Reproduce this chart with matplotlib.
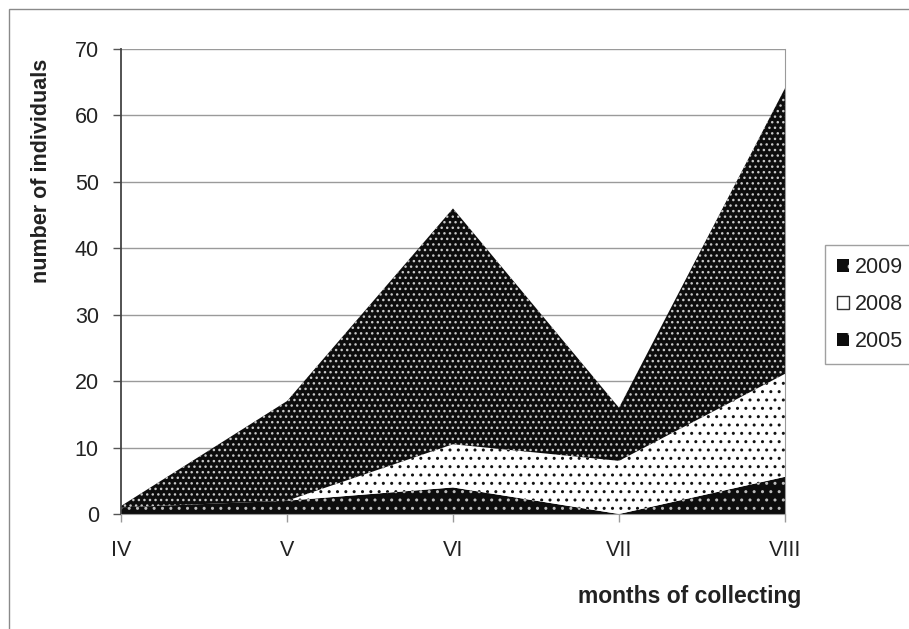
import matplotlib.pyplot as plt
from matplotlib.patches import Patch, Rectangle

plt.rcParams['font.family'] = ['Liberation Sans', 'DejaVu Sans']
plt.rcParams['hatch.linewidth'] = 1.0

# data (stacked: 2005 bottom, 2008 middle, 2009 top)
months = ['IV', 'V', 'VI', 'VII', 'VIII']
y2005 = [1, 2, 4, 0, 5.6]
y2008 = [0, 0, 6.5, 8, 15.5]
y2009 = [0.2, 15, 35.5, 8, 43]

yticks = [0, 10, 20, 30, 40, 50, 60, 70]

fig = plt.figure(figsize=(9.09, 6.29), dpi=100)
ax = fig.add_axes([121 / 909, 1 - 514 / 629, 664 / 909, 465 / 629])

x = range(len(months))
polys = ax.stackplot(x, y2005, y2008, y2009, labels=['2005', '2008', '2009'])

# fill + dot pattern for each layer
styles = [
    ('#0d0d0d', '#bdbdbd', '..'),   # 2005
    ('white', '#111111', '..'),     # 2008
    ('#0d0d0d', '#c8c8c8', '...'),  # 2009
]
for p, (fc, hc, h) in zip(polys, styles):
    p.set_facecolor(fc)
    p.set_edgecolor(hc)
    p.set_linewidth(0)
    p.set_hatch(h)

ax.set_xlim(0, len(months) - 1)
ax.set_ylim(0, 70)
ax.set_xticks(list(x))
ax.set_xticklabels(months)
ax.set_yticks(yticks)
ax.yaxis.grid(True, color='#9a9a9a', linewidth=1.0)
ax.set_axisbelow(True)

ax.tick_params(axis='y', length=6, width=1, color='#555555', pad=10,
               labelsize=15.5, labelcolor='#222222')
ax.tick_params(axis='x', length=6, width=1, color='#9a9a9a', pad=13,
               labelsize=15.5, labelcolor='#222222')

ax.spines['left'].set_color('#444444')
ax.spines['left'].set_linewidth(1.3)
ax.spines['bottom'].set_color('#9a9a9a')
ax.spines['right'].set_color('#9a9a9a')
ax.spines['top'].set_visible(False)

fig.text(42 / 909, 1 - 171 / 629, 'number of individuals', rotation=90,
         ha='center', va='center', fontsize=15.5, fontweight='bold', color='#222222')
fig.text(690 / 909, 1 - 596 / 629, 'months of collecting',
         ha='center', va='center', fontsize=16.5, fontweight='bold', color='#222222')

# legend, top entry first
handles = [
    Patch(facecolor=styles[2][0], edgecolor=styles[2][1], hatch='.', linewidth=0),
    Patch(facecolor='white', edgecolor='#333333', linewidth=1.0),
    Patch(facecolor=styles[0][0], edgecolor=styles[0][1], hatch='.', linewidth=0),
]
leg = fig.legend(handles, ['2009', '2008', '2005'], loc='upper left',
                 bbox_to_anchor=(825 / 909, 1 - 245 / 629), fontsize=15.5,
                 handlelength=0.55, handleheight=0.55, handletextpad=0.3,
                 labelspacing=0.75, borderpad=0.55, borderaxespad=0,
                 frameon=True, fancybox=False)
leg.get_frame().set_edgecolor('#888888')
leg.get_frame().set_linewidth(1.0)
for t in leg.get_texts():
    t.set_color('#222222')

# outer chart border (runs off the right and bottom edge)
fig.patches.append(Rectangle((9 / 909, -0.05), 1.1, 1 - 9 / 629 + 0.05,
                             transform=fig.transFigure, fill=False,
                             edgecolor='#8a8a8a', linewidth=1.0))

fig.savefig('out.png', dpi=100)
